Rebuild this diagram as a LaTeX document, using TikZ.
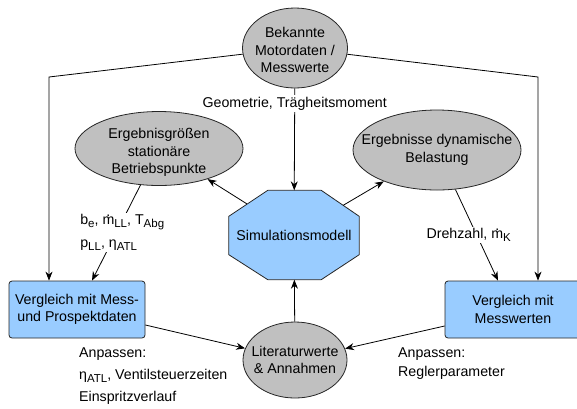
\documentclass[tikz,border=0pt]{standalone}
\usepackage{fontspec}
\setmainfont{Liberation Sans}
\usetikzlibrary{shapes.geometric,arrows.meta,calc}
\definecolor{graybg}{HTML}{C0C0C0}
\definecolor{bluebg}{HTML}{99CCFF}
\newcommand{\lsub}[1]{\raisebox{-3pt}{\fontsize{11.5}{11.5}\selectfont #1}}
\newcommand{\mdt}{{\setbox0\hbox{m}\rlap{\hbox to\wd0{\hss\raisebox{8.3pt}{.}\hss}}\box0}}
\begin{document}
\begin{tikzpicture}[x=1pt,y=-1pt,
  font=\fontsize{14.2}{17.5}\selectfont,
  ell/.style={ellipse, draw=black!85, fill=graybg, line width=0.8pt, inner sep=0pt},
  box/.style={rectangle, rounded corners=3pt, draw=black!85, fill=bluebg, line width=0.8pt,
              minimum width=136pt, minimum height=57pt, align=center, inner sep=0pt},
  arr/.style={-{Stealth[length=9pt,width=7pt]}, line width=0.8pt, draw=black},
  lab/.style={fill=white, inner sep=1.5pt, align=left}]
\useasboundingbox (0,0) rectangle (577,408);

% nodes
\node[ell, minimum width=105pt, minimum height=80pt,
      label={[align=center,yshift=-2pt]center:Bekannte\\Motordaten /\\Messwerte}] (top) at (295,48) {};
\node[ell, minimum width=168pt, minimum height=74pt,
      label={[align=center,yshift=-4pt]center:Ergebnisgrößen\\stationäre\\Betriebspunkte}] (lell) at (159,148.5) {};
\node[ell, minimum width=168pt, minimum height=80pt,
      label={[align=center]center:Ergebnisse dynamische\\Belastung}] (rell) at (437,150) {};
\node[ell, minimum width=104pt, minimum height=76pt,
      label={[align=center]center:Literaturwerte\\\& Annahmen}] (lit) at (295,360) {};

\node[minimum width=130pt, minimum height=89pt, inner sep=0pt] (sim) at (294,235) {};
\fill[bluebg, draw=black!85, line width=0.8pt]
  ($(sim.north west)+(39,0)$) -- ($(sim.north east)+(-38,0)$) -- ($(sim.north east)+(0,26)$)
  -- ($(sim.south east)+(0,-25)$) -- ($(sim.south east)+(-38,0)$) -- ($(sim.south west)+(39,0)$)
  -- ($(sim.south west)+(0,-25)$) -- ($(sim.north west)+(0,26)$) -- cycle;
\node at (sim) {Simulationsmodell};

\node[box] (lbox) at (77,309.5) {Vergleich mit Mess-\\und Prospektdaten};
\node[box] (rbox) at (513,309.5) {Vergleich mit\\Messwerten};

\coordinate (cl) at (49,77);
\coordinate (cr) at (538,77);

% connectors
\draw[arr] (top) -- (cl) -- (cl |- lbox.north);
\draw[arr] (top) -- (cr) -- (cr |- rbox.north);
\draw[arr] (top) -- node[pos=0.15, fill=white, inner sep=2pt] {Geometrie, Trägheitsmoment} (sim);
\draw[arr] ($(sim.north west)+(18,13.5)$) -- (lell);
\draw[arr] ($(sim.north east)+(-16,15)$) -- (rell);
\draw[arr] (lit) -- (sim);
\draw[arr] (lell) -- node[lab, pos=0.5, xshift=6pt, font=\fontsize{14.2}{23}\selectfont]
  {b\lsub{e}, \mdt\lsub{LL}, T\lsub{Abg}\\p\lsub{LL}, η\lsub{ATL}} ($(lbox.north)+(15,0)$);
\draw[arr] (rell) -- node[lab, pos=0.5, xshift=-8pt] {Drehzahl, \mdt\lsub{K}} ($(rbox.north)+(-15,0)$);
\draw[arr] ($(lbox.east)+(0,15.5)$) -- (lit);
\draw[arr] ($(rbox.west)+(0,16.5)$) -- (lit);

% free labels
\node[anchor=north west, inner sep=0pt, align=left, font=\fontsize{14.2}{22}\selectfont] (lanp) at (79,348)
  {Anpassen:\\η\lsub{ATL}, Ventilsteuerzeiten\\Einspritzverlauf};
\node[anchor=north west, inner sep=0pt, align=left, font=\fontsize{14.2}{18.5}\selectfont] (ranp) at (398,348)
  {Anpassen:\\Reglerparameter};
\end{tikzpicture}
\end{document}
